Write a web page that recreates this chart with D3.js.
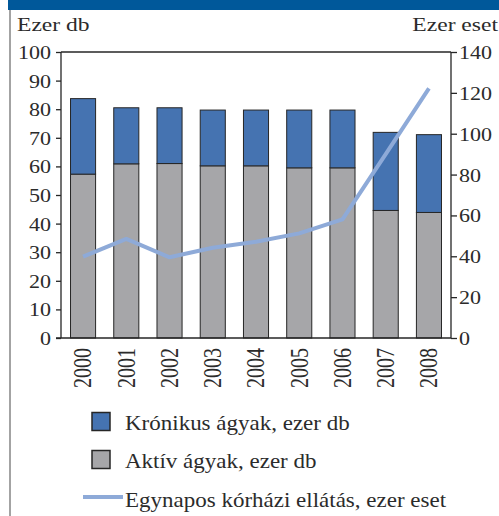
<!DOCTYPE html>
<html>
  <head>
    <meta charset="UTF-8">
    <title>Kórházi ágyak és egynapos ellátás</title>
    <script src="https://d3js.org/d3.v7.min.js"></script>
    <style>
      body { margin: 0; background: #fff; }
      text { font-family: "Liberation Serif", "DejaVu Serif", serif; fill: #2b2b2b; }
    </style>
  </head>
  <body>
    <svg width="499" height="516"></svg>
    <script>
      // Data
      var years = ["2000", "2001", "2002", "2003", "2004", "2005", "2006", "2007", "2008"];
      var aktiv = [57.3, 60.9, 61.0, 60.2, 60.2, 59.5, 59.5, 44.6, 43.9];
      var kronikus = [26.4, 19.6, 19.5, 19.5, 19.5, 20.2, 20.2, 27.3, 27.2];
      var egynapos = [39.8, 48.5, 39.5, 44.2, 47.1, 51.2, 58.1, 90, 122.2];
      var leftTicks = [0, 10, 20, 30, 40, 50, 60, 70, 80, 90, 100];
      var rightTicks = [0, 20, 40, 60, 80, 100, 120, 140];
      var legendLabels = ["Krónikus ágyak, ezer db", "Aktív ágyak, ezer db", "Egynapos kórházi ellátás, ezer eset"];

      var blue = "#4573b1", grey = "#a6a6a9", lineBlue = "#8eaad8", ink = "#262626";

      var svg = d3.select("svg"),
          margin = {top: 52, right: 48, bottom: 178, left: 61},
          width = +svg.attr("width") - margin.left - margin.right,
          height = +svg.attr("height") - margin.top - margin.bottom;

      // header band and left rule
      svg.append("rect").attr("x", 8).attr("y", 0).attr("width", 491).attr("height", 10).attr("fill", "#00589a");
      svg.append("rect").attr("x", 9).attr("y", 10).attr("width", 2).attr("height", 506).attr("fill", "#a3a3a3");

      var g = svg.append("g").attr("transform", "translate(" + margin.left + "," + margin.top + ")");

      var x = d3.scaleBand().domain(years).range([0, width]).paddingInner(0.42).paddingOuter(0.22);
      var y = d3.scaleLinear().domain([0, 100]).range([height, 0]);
      var y2 = d3.scaleLinear().domain([0, 140]).range([height, 0]);

      // stacked bars
      var stacked = years.map(function(d, i) { return {year: d, aktiv: aktiv[i], kronikus: kronikus[i]}; });
      var series = d3.stack().keys(["aktiv", "kronikus"])(stacked);
      var colors = {aktiv: grey, kronikus: blue};

      g.selectAll(".serie")
        .data(series)
        .enter().append("g")
          .attr("fill", function(s) { return colors[s.key]; })
        .selectAll("rect")
        .data(function(s) { return s; })
        .enter().append("rect")
          .attr("x", function(d) { return x(d.data.year); })
          .attr("y", function(d) { return y(d[1]); })
          .attr("width", x.bandwidth())
          .attr("height", function(d) { return y(d[0]) - y(d[1]); })
          .attr("stroke", ink)
          .attr("stroke-width", 1);

      // line on the right axis
      var line = d3.line()
          .x(function(d, i) { return x(years[i]) + x.bandwidth() / 2; })
          .y(function(d) { return y2(d); });

      g.append("path")
        .datum(egynapos)
        .attr("fill", "none")
        .attr("stroke", lineBlue)
        .attr("stroke-width", 4)
        .attr("stroke-linejoin", "round")
        .attr("d", line);

      // frame
      g.append("line").attr("x1", 0).attr("x2", width).attr("y1", 0).attr("y2", 0)
        .attr("stroke", ink).attr("stroke-width", 1.3);

      // axes
      var leftAxis = g.append("g")
        .call(d3.axisLeft(y).tickValues(leftTicks).tickSize(5).tickFormat(d3.format("d")));
      var rightAxis = g.append("g")
        .attr("transform", "translate(" + width + ",0)")
        .call(d3.axisRight(y2).tickValues(rightTicks).tickSize(6).tickFormat(d3.format("d")));
      var bottomAxis = g.append("g")
        .attr("transform", "translate(0," + height + ")")
        .call(d3.axisBottom(x).tickSize(0));

      [leftAxis, rightAxis, bottomAxis].forEach(function(a) {
        a.select(".domain").attr("stroke", ink).attr("stroke-width", 1.3);
        a.selectAll(".tick line").attr("stroke", ink).attr("stroke-width", 1.3);
        a.selectAll("text").style("font-size", "19px").attr("fill", "#2b2b2b");
      });
      leftAxis.select(".domain").attr("d", "M0," + height + "V0");
      rightAxis.select(".domain").attr("d", "M0," + height + "V0");
      bottomAxis.select(".domain").attr("d", "M-5,0H" + width);

      // tick labels: stretched a little sideways like the picture
      leftAxis.selectAll(".tick text")
        .attr("x", null).attr("dy", null)
        .attr("transform", "translate(-10,6.5) scale(1.16,1)");
      rightAxis.selectAll(".tick text")
        .attr("x", null).attr("dy", null)
        .attr("transform", "translate(8,6.5) scale(1.16,1)");
      bottomAxis.selectAll(".tick text")
        .style("font-size", "20px")
        .attr("y", null).attr("dy", "0.33em")
        .attr("text-anchor", "end")
        .attr("transform", "translate(0,10) scale(1.25,1) rotate(-90)");

      // axis titles
      svg.append("text").attr("transform", "translate(17,31) scale(1.24,1)")
        .style("font-size", "19px").text("Ezer db");
      svg.append("text").attr("transform", "translate(498,31) scale(1.24,1)")
        .attr("text-anchor", "end").style("font-size", "19px").text("Ezer eset");

      // legend
      var legend = svg.append("g").attr("transform", "translate(0,0)");
      var rows = [430, 468, 507];
      [blue, grey].forEach(function(c, i) {
        legend.append("rect")
          .attr("x", 92).attr("y", rows[i] - 17.5)
          .attr("width", 18).attr("height", 18)
          .attr("fill", c).attr("stroke", ink).attr("stroke-width", 1.5);
      });
      legend.append("line")
        .attr("x1", 83).attr("x2", 123).attr("y1", rows[2] - 10).attr("y2", rows[2] - 10)
        .attr("stroke", lineBlue).attr("stroke-width", 4);
      legendLabels.forEach(function(t, i) {
        legend.append("text")
          .attr("transform", "translate(125," + rows[i] + ") scale(1.07,1)")
          .style("font-size", "21.5px")
          .text(t);
      });
    </script>
  </body>
</html>
